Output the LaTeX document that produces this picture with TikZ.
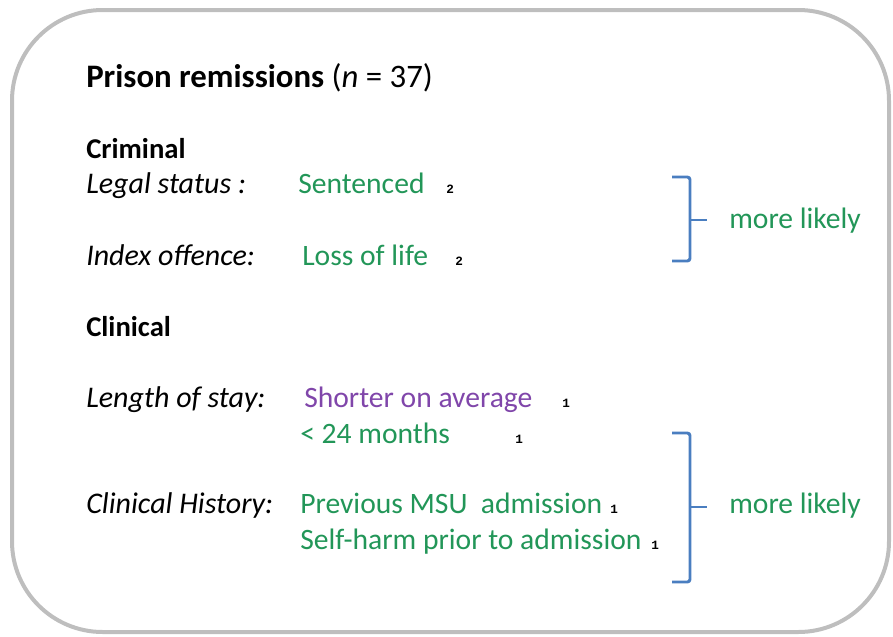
\documentclass[tikz,border=0pt]{standalone}
\usepackage{fontspec}
\setmainfont{Carlito}
\newfontfamily\notefont{Liberation Mono}
\definecolor{framegray}{RGB}{190,190,190}
\definecolor{findgreen}{RGB}{34,150,88}
\definecolor{findpurple}{RGB}{128,70,170}
\definecolor{bracketblue}{RGB}{74,126,192}
\begin{document}
\begin{tikzpicture}[x=0.75pt,y=-0.75pt,
  txt/.style={anchor=base west,inner sep=0pt,font=\fontsize{22.2}{26}\selectfont},
  head/.style={txt,font=\fontsize{21.5}{25}\selectfont\bfseries},
  title/.style={txt,font=\fontsize{24.6}{29}\selectfont},
  label/.style={txt,font=\fontsize{22.5}{26}\selectfont\itshape},
  good/.style={txt,text=findgreen},
  mixed/.style={txt,text=findpurple},
  note/.style={anchor=base west,inner sep=0pt,font=\notefont\bfseries\fontsize{9.5}{10}\selectfont},
  brace/.style={draw=bracketblue,line width=2.2pt,rounded corners=2pt}]
\useasboundingbox (0,0) rectangle (893,636);
% outer frame
\draw[framegray,line width=3pt,rounded corners=68pt] (12,10) rectangle (889,632);

% heading
\node[title] (ttl) at (86,87) {\textbf{Prison remissions} (\textit{n} = 37)};

% criminal factors
\node[head] (crim) at (86,158) {Criminal};
\node[label] (legal) at (86,193) {Legal status :};
\node[good] (sent) at (298,193) {Sentenced};
\node[note] (n1) at (446,193) {2};
\node[label] (index) at (86,265) {Index offence:};
\node[good] (loss) at (302,265) {Loss of life};
\node[note] (n2) at (455,265) {2};

% clinical factors
\node[head] (clin) at (86,336) {Clinical};
\node[label] (stay) at (86,407) {Length of stay:};
\node[mixed] (short) at (304,407) {Shorter on average};
\node[note] (n3) at (562,407) {1};
\node[good] (months) at (300,443) {< 24 months};
\node[note] (n4) at (515,443) {1};
\node[label] (hist) at (86,513) {Clinical History:};
\node[good] (msu) at (300,513) {Previous MSU\ \ admission};
\node[note] (n5) at (610,513) {1};
\node[good] (self) at (300,549) {Self-harm prior to admission};
\node[note] (n6) at (651,549) {1};

% summary labels
\node[good] (likely1) at (729,228) {more likely};
\node[good] (likely2) at (729,513) {more likely};

% brackets
\coordinate (b1t) at (672,177);
\coordinate (b1b) at (672,261);
\coordinate (b1m) at (690,220);
\coordinate (b2t) at (672,433);
\coordinate (b2b) at (672,582);
\coordinate (b2m) at (690,507);
\draw[brace] (b1t) -- (b1t -| b1m) -- (b1b -| b1m) -- (b1b);
\draw[brace] (b1m) -- ++(17,0);
\draw[brace] (b2t) -- (b2t -| b2m) -- (b2b -| b2m) -- (b2b);
\draw[brace] (b2m) -- ++(17,0);
\end{tikzpicture}
\end{document}
